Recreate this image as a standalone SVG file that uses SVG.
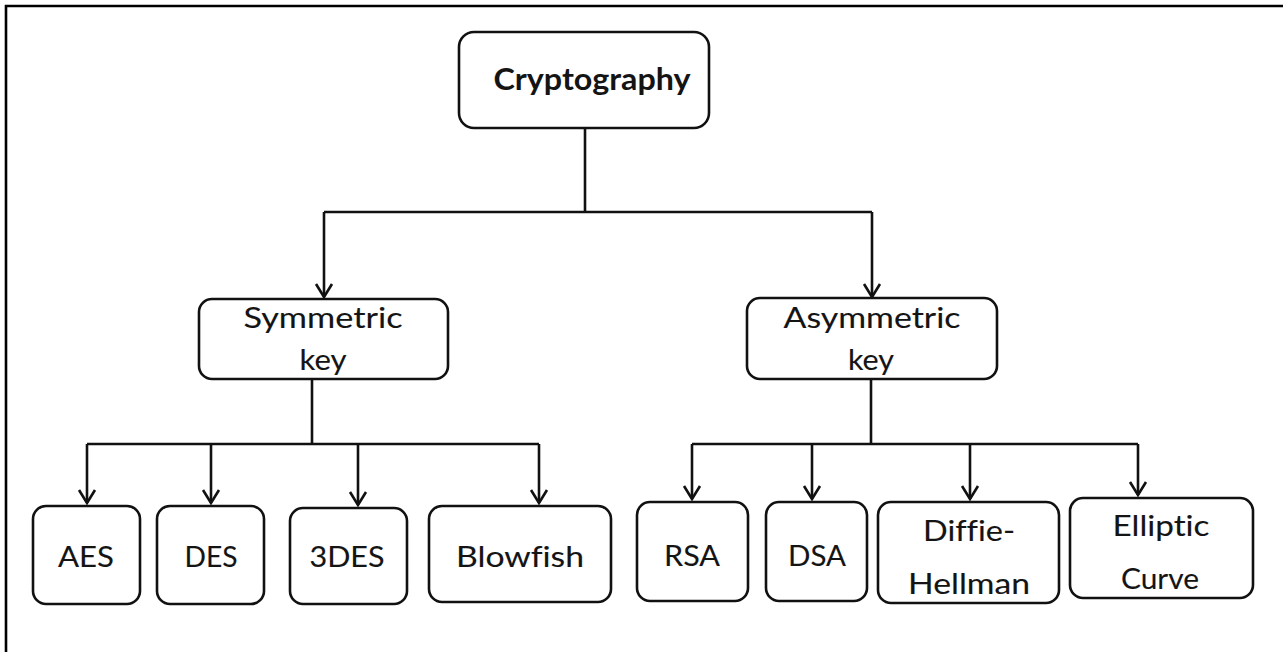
<svg xmlns="http://www.w3.org/2000/svg" width="1283" height="652" viewBox="0 0 1283 652">
  <style>
    .box { fill: #ffffff; stroke: #111111; stroke-width: 2.6; }
    .wire { fill: none; stroke: #111111; stroke-width: 2.6; }
    .lbl { font-family: Lato, "Open Sans", "Liberation Sans", sans-serif; font-size: 28px; fill: #141414; stroke: #141414; stroke-width: 0.12; text-anchor: middle; font-variant-ligatures: none; font-feature-settings: "liga" 0, "dlig" 0; }
    .title { font-family: Lato, "Open Sans", "Liberation Sans", sans-serif; font-size: 30px; font-weight: bold; fill: #141414; text-anchor: middle; font-variant-ligatures: none; }
  </style>
  <defs>
    <marker id="arrow" viewBox="-16 -10 18 20" refX="0" refY="0" markerWidth="18" markerHeight="20" markerUnits="userSpaceOnUse" orient="auto">
      <path d="M-13,-8 L0,0 L-13,8" fill="none" stroke="#111111" stroke-width="2.6" stroke-linejoin="miter"/>
    </marker>
  </defs>

  <rect width="1283" height="652" fill="#ffffff"/>

  <!-- frame: top and left rules -->
  <path d="M6,652 V6 H1283" fill="none" stroke="#000000" stroke-width="2.6"/>

  <!-- connectors -->
  <g id="connectors">
    <!-- Cryptography to the two key families -->
    <path class="wire" d="M585,128 V212"/>
    <path class="wire" d="M324,212 H872"/>
    <path class="wire" d="M324,212 V297" marker-end="url(#arrow)"/>
    <path class="wire" d="M872,212 V297" marker-end="url(#arrow)"/>

    <!-- Symmetric key to its algorithms -->
    <path class="wire" d="M312,379 V444"/>
    <path class="wire" d="M87,444 H539"/>
    <path class="wire" d="M87,444 V503" marker-end="url(#arrow)"/>
    <path class="wire" d="M211,444 V503" marker-end="url(#arrow)"/>
    <path class="wire" d="M358,444 V505" marker-end="url(#arrow)"/>
    <path class="wire" d="M539,444 V503" marker-end="url(#arrow)"/>

    <!-- Asymmetric key to its algorithms -->
    <path class="wire" d="M871,379 V444"/>
    <path class="wire" d="M692,444 H1138"/>
    <path class="wire" d="M692,444 V499" marker-end="url(#arrow)"/>
    <path class="wire" d="M812,444 V499" marker-end="url(#arrow)"/>
    <path class="wire" d="M970,444 V499" marker-end="url(#arrow)"/>
    <path class="wire" d="M1138,444 V495" marker-end="url(#arrow)"/>
  </g>

  <g id="cryptography">
    <rect class="box" x="459" y="32" width="250" height="96" rx="15"/>
    <text class="title" x="592" y="90" textLength="197" lengthAdjust="spacingAndGlyphs">Cryptography</text>
  </g>

  <g id="symmetric-key">
    <rect class="box" x="199" y="299" width="249" height="80" rx="13"/>
    <text class="lbl" x="323" y="328" textLength="159" lengthAdjust="spacingAndGlyphs">Symmetric</text>
    <text class="lbl" x="323" y="370" textLength="47" lengthAdjust="spacingAndGlyphs">key</text>
  </g>

  <g id="asymmetric-key">
    <rect class="box" x="747" y="298" width="250" height="81" rx="13"/>
    <text class="lbl" x="872" y="328" textLength="177" lengthAdjust="spacingAndGlyphs">Asymmetric</text>
    <text class="lbl" x="871" y="370" textLength="46" lengthAdjust="spacingAndGlyphs">key</text>
  </g>

  <g id="aes">
    <rect class="box" x="33" y="506" width="107" height="98" rx="13"/>
    <text class="lbl" x="86" y="567" textLength="56" lengthAdjust="spacingAndGlyphs">AES</text>
  </g>

  <g id="des">
    <rect class="box" x="157" y="506" width="107" height="98" rx="13"/>
    <text class="lbl" x="211" y="567" textLength="53" lengthAdjust="spacingAndGlyphs">DES</text>
  </g>

  <g id="triple-des">
    <rect class="box" x="290" y="508" width="117" height="96" rx="13"/>
    <text class="lbl" x="347" y="567" textLength="75" lengthAdjust="spacingAndGlyphs">3DES</text>
  </g>

  <g id="blowfish">
    <rect class="box" x="429" y="506" width="182" height="96" rx="13"/>
    <text class="lbl" x="520" y="567" textLength="128" lengthAdjust="spacingAndGlyphs">Blowfish</text>
  </g>

  <g id="rsa">
    <rect class="box" x="637" y="502" width="111" height="99" rx="13"/>
    <text class="lbl" x="692" y="566" textLength="56" lengthAdjust="spacingAndGlyphs">RSA</text>
  </g>

  <g id="dsa">
    <rect class="box" x="766" y="502" width="101" height="99" rx="13"/>
    <text class="lbl" x="817" y="566" textLength="58" lengthAdjust="spacingAndGlyphs">DSA</text>
  </g>

  <g id="diffie-hellman">
    <rect class="box" x="878" y="502" width="181" height="101" rx="13"/>
    <text class="lbl" x="969" y="541" textLength="92" lengthAdjust="spacingAndGlyphs">Diffie-</text>
    <text class="lbl" x="969" y="594" textLength="122" lengthAdjust="spacingAndGlyphs">Hellman</text>
  </g>

  <g id="elliptic-curve">
    <rect class="box" x="1070" y="498" width="183" height="100" rx="13"/>
    <text class="lbl" x="1161" y="536" textLength="97" lengthAdjust="spacingAndGlyphs">Elliptic</text>
    <text class="lbl" x="1160" y="589" textLength="78" lengthAdjust="spacingAndGlyphs">Curve</text>
  </g>
</svg>
